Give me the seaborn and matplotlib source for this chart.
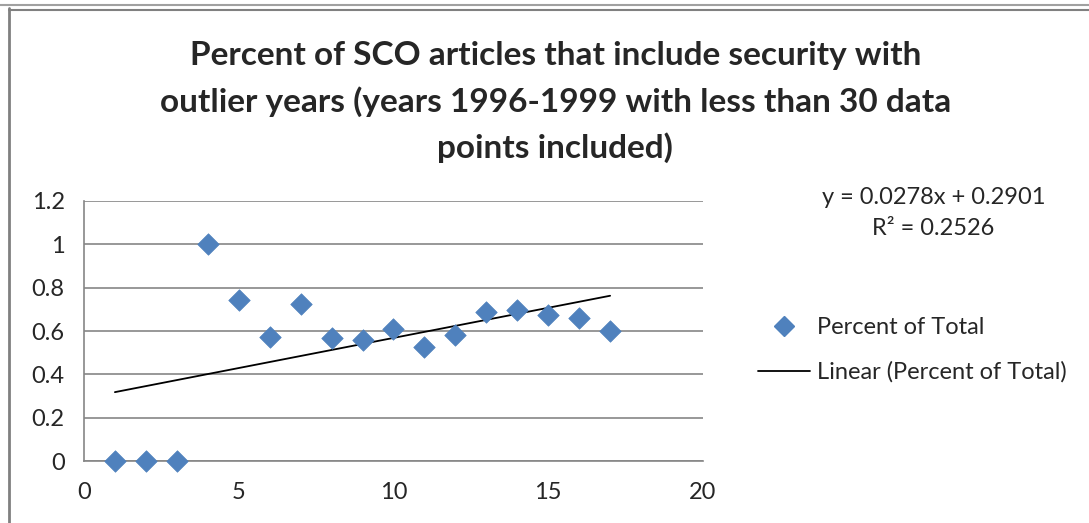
import numpy as np
import pandas as pd
import seaborn as sns
import matplotlib.pyplot as plt
from matplotlib.lines import Line2D

# data
x_vals = [1, 2, 3, 4, 5, 6, 7, 8, 9, 10, 11, 12, 13, 14, 15, 16, 17]
pct_total = [0, 0, 0, 1.0, 0.743, 0.572, 0.725, 0.568, 0.558, 0.609,
             0.526, 0.581, 0.688, 0.697, 0.674, 0.660, 0.600]
slope = 0.0278
intercept = 0.2901
r2 = 0.2526

df = pd.DataFrame({'x': x_vals, 'pct': pct_total})

sns.set_style('white')
plt.rcParams['font.family'] = ['Lato', 'DejaVu Sans']

fig = plt.figure(figsize=(10.89, 5.23), dpi=100)
ax = fig.add_axes([0.0771, 0.1185, 0.5684, 0.4972])

grid_col = '#868686'
blue = '#4F81BD'

# trendline
tx = np.array([x_vals[0], x_vals[-1]])
ax.plot(tx, slope * tx + intercept, color='black', lw=1.3, zorder=2)

sns.scatterplot(data=df, x='x', y='pct', marker='D', s=120, color=blue,
                edgecolor=blue, linewidth=0.5, ax=ax, zorder=3, legend=False,
                clip_on=False)

ax.set_xlim(0, 20)
ax.set_ylim(0, 1.2)
ax.set_xticks([0, 5, 10, 15, 20])
ax.set_xticklabels(['0', '5', '10', '15', '20'])
ax.set_yticks([0, 0.2, 0.4, 0.6, 0.8, 1.0, 1.2])
ax.set_yticklabels(['0', '0.2', '0.4', '0.6', '0.8', '1', '1.2'])
ax.yaxis.grid(True, color=grid_col, lw=1.2)
ax.set_axisbelow(True)
for s in ['top', 'right']:
    ax.spines[s].set_visible(False)
for s in ['left', 'bottom']:
    ax.spines[s].set_color(grid_col)
    ax.spines[s].set_linewidth(1.2)
ax.tick_params(axis='both', direction='out', length=5, width=1.2,
               color=grid_col, labelsize=17, pad=9)
ax.tick_params(axis='x', pad=10)
ax.set_xlabel('')
ax.set_ylabel('')

fig.text(0.51, 0.893, 'Percent of SCO articles that include security with',
         ha='center', va='center', fontsize=24, fontweight='bold')
fig.text(0.51, 0.805, 'outlier years (years 1996-1999 with less than 30 data',
         ha='center', va='center', fontsize=24, fontweight='bold')
fig.text(0.51, 0.717, 'points included)',
         ha='center', va='center', fontsize=24, fontweight='bold')

fig.text(0.857, 0.623, 'y = 0.0278x + 0.2901', ha='center', va='center', fontsize=17)
fig.text(0.857, 0.564, 'R² = 0.2526', ha='center', va='center', fontsize=17)

handles = [Line2D([], [], marker='D', color=blue, ls='none', markersize=10),
           Line2D([], [], color='black', lw=1.3)]
fig.legend(handles, ['Percent of Total', 'Linear (Percent of Total)'],
           loc='center left', bbox_to_anchor=(0.696, 0.331), frameon=False,
           fontsize=17, handlelength=2.2, handletextpad=0.3, labelspacing=1.0,
           borderpad=0, borderaxespad=0)

# chart frame
fig.add_artist(Line2D([0.008, 0.008], [0, 0.985], color='#808080', lw=2,
                      transform=fig.transFigure))
fig.add_artist(Line2D([0.008, 1], [0.98, 0.98], color='#808080', lw=1.5,
                      transform=fig.transFigure))
fig.add_artist(Line2D([0, 1], [0.99, 0.99], color='#a0a0a0', lw=1.5,
                      transform=fig.transFigure))

plt.savefig('out.png', dpi=100)
